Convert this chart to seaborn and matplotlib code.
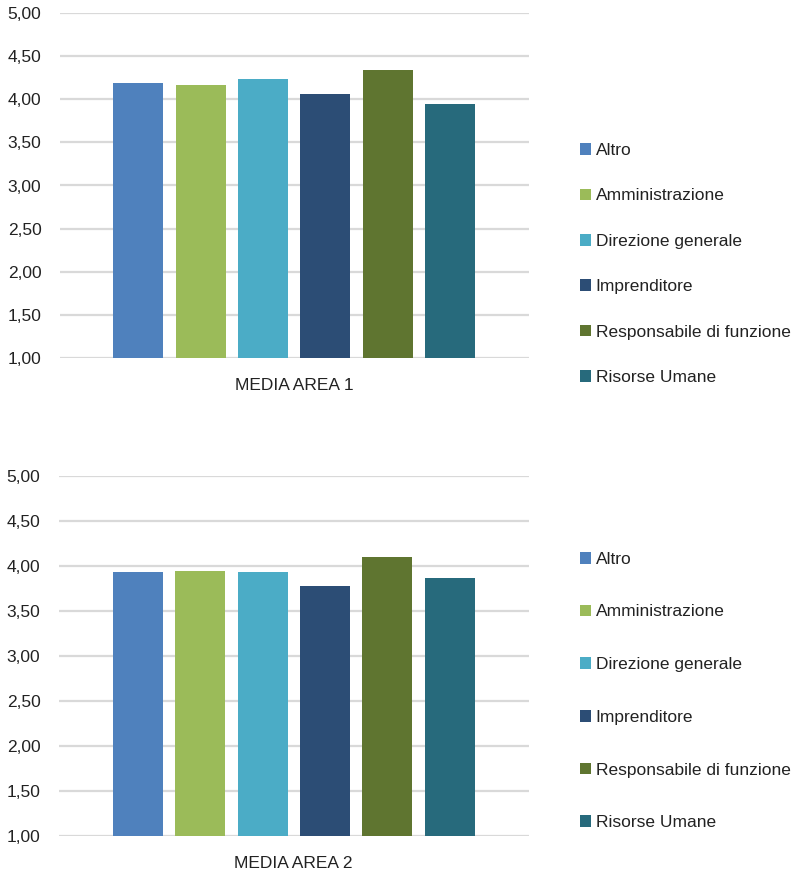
import pandas as pd
import matplotlib.pyplot as plt
import seaborn as sns
from matplotlib.ticker import FuncFormatter

# dati
categorie = ['Altro', 'Amministrazione', 'Direzione generale', 'Imprenditore',
             'Responsabile di funzione', 'Risorse Umane']
media_area_1 = [4.19, 4.16, 4.24, 4.06, 4.34, 3.95]
media_area_2 = [3.93, 3.95, 3.93, 3.78, 4.10, 3.87]
colori = ['#4F81BD', '#9BBB59', '#4BACC6', '#2C4D75', '#5F7530', '#276A7C']
yticks = [1.0, 1.5, 2.0, 2.5, 3.0, 3.5, 4.0, 4.5, 5.0]

sns.set_style('white')
plt.rcParams['font.family'] = ['Liberation Sans', 'DejaVu Sans']

fig = plt.figure(figsize=(7.94, 8.71), dpi=100)
ax1 = fig.add_axes([59.5 / 794, 1 - 358 / 871, 469.5 / 794, 345 / 871])
ax2 = fig.add_axes([58.5 / 794, 1 - 836 / 871, 470.5 / 794, 360 / 871])

# (asse, valori, nome, centro verticale legenda, spaziatura legenda)
pannelli = [(ax1, media_area_1, 'MEDIA AREA 1', 1 - 264 / 871, 1.75),
            (ax2, media_area_2, 'MEDIA AREA 2', 1 - 691 / 871, 2.17)]

for ax, valori, nome, ycentro, spaziatura in pannelli:
    df = pd.DataFrame({'area': nome, 'ruolo': categorie, 'media': valori})
    sns.barplot(data=df, x='area', y='media', hue='ruolo', palette=colori,
                width=0.797, gap=0.2, saturation=1, linewidth=0, ax=ax, legend=True)
    ax.set_ylim(1, 5)
    ax.set_yticks(yticks)
    ax.yaxis.set_major_formatter(FuncFormatter(lambda v, p: f'{v:.2f}'.replace('.', ',')))
    ax.grid(axis='y', color='#d9d9d9', linewidth=1.6)
    ax.set_axisbelow(True)
    sns.despine(ax=ax, left=True, bottom=True, top=True, right=True)
    ax.tick_params(axis='y', length=0, labelsize=12.5, colors='#222222', pad=13)
    ax.tick_params(axis='x', length=0, labelsize=12.5, colors='#222222', pad=14.5)
    ax.set_xlabel('')
    ax.set_ylabel('')
    ax.legend(loc='center left', bbox_to_anchor=(580 / 794, ycentro),
              bbox_transform=fig.transFigure, frameon=False, fontsize=12.5,
              handlelength=0.65, handleheight=0.65, handletextpad=0.25,
              labelspacing=spaziatura, borderaxespad=0, borderpad=0,
              labelcolor='#222222')

plt.savefig('out.png', dpi=100)
